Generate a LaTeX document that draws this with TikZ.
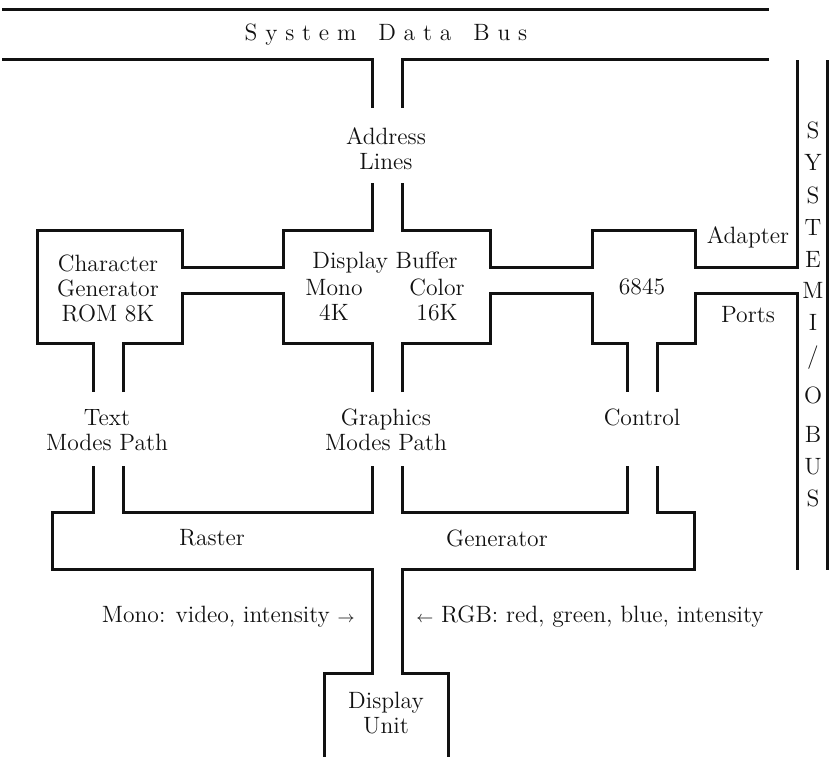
\documentclass[tikz,border=0pt]{standalone}
\usepackage{fontspec}
\usepackage{tikz}
\definecolor{BusInk}{HTML}{111111}
\newcommand{\lsp}{\hspace{3.9pt}}

\begin{document}
\begin{tikzpicture}[x=0.5pt,y=-0.5pt,
  pipe/.style={draw=BusInk,line width=1.5pt},
  lbl/.style={font=\fontsize{11.8}{12.5}\selectfont,text=BusInk,inner sep=0pt,align=center}]
\useasboundingbox (0,0) rectangle (831,757);
% system data bus and address lines
\draw[pipe] (2,9) -- (769,9);
\draw[pipe] (2,59) -- (372,59) -- (372,108);
\draw[pipe] (769,59) -- (402,59) -- (402,108);
\node[lbl] (sdb) at (386,35) {S\lsp y\lsp s\lsp t\lsp e\lsp m\hspace{11pt}D\lsp a\lsp t\lsp a\hspace{11pt}B\lsp u\lsp s};
\node[lbl] (addr) at (386,149) {Address\\Lines};
% character generator, display buffer, 6845
\draw[pipe] (372,183) -- (372,230) -- (283,230) -- (283,267) -- (182,267) -- (182,230) -- (37,230) -- (37,343) -- (93,343) -- (93,392);
\draw[pipe] (123,392) -- (123,343) -- (182,343) -- (182,293) -- (283,293) -- (283,343) -- (372,343) -- (372,392);
\draw[pipe] (402,392) -- (402,343) -- (490,343) -- (490,293) -- (592,293) -- (592,343) -- (627,343) -- (627,392);
\draw[pipe] (657,392) -- (657,343) -- (695,343) -- (695,293) -- (797,293) -- (797,570);
\draw[pipe] (402,183) -- (402,230) -- (490,230) -- (490,267) -- (592,267) -- (592,230) -- (695,230) -- (695,267) -- (797,267) -- (797,60);
\draw[pipe] (827,60) -- (827,570);
\node[lbl] (chargen) at (108,288) {Character\\Generator\\ROM 8K};
\node[lbl] (dbuf) at (385,263) {Display Buffer};
\node[lbl] (mono) at (334,300) {Mono\\4K};
\node[lbl] (color) at (437,300) {Color\\16K};
\node[lbl] (crtc) at (642,287) {6845};
\node[lbl] (adapter) at (748,237) {Adapter};
\node[lbl] (ports) at (748,315) {Ports};
% I/O bus letters
\foreach \ch/\yy [count=\i] in {S/130,Y/162,S/195,T/227,E/259,M/290,I/322,{/}/358,O/395,B/434,U/467,S/498}
  \node[lbl] (io\i) at (813,\yy) {\ch};
% mode paths and raster generator
\node[lbl] (textpath) at (107,430) {Text\\Modes Path};
\node[lbl] (gfxpath) at (386,430) {Graphics\\Modes Path};
\node[lbl] (control) at (642,417) {Control};
\draw[pipe] (93,466) -- (93,512) -- (52,512) -- (52,569) -- (372,569) -- (372,673) -- (324,673) -- (324,757);
\draw[pipe] (123,466) -- (123,512) -- (372,512) -- (372,466);
\draw[pipe] (402,466) -- (402,512) -- (627,512) -- (627,466);
\draw[pipe] (657,466) -- (657,512) -- (694,512) -- (694,569) -- (402,569) -- (402,673) -- (448,673) -- (448,757);
\node[lbl] (raster) at (212,538) {Raster};
\node[lbl] (rgen) at (497,538) {Generator};
% display unit
\node[lbl,anchor=east] (monosig) at (355,617) {Mono: video, intensity $\scriptstyle\rightarrow$};
\node[lbl,anchor=west] (rgbsig) at (416,617) {$\scriptstyle\leftarrow$ RGB: red, green, blue, intensity};
\node[lbl] (dunit) at (386,713) {Display\\Unit};
\end{tikzpicture}
\end{document}
